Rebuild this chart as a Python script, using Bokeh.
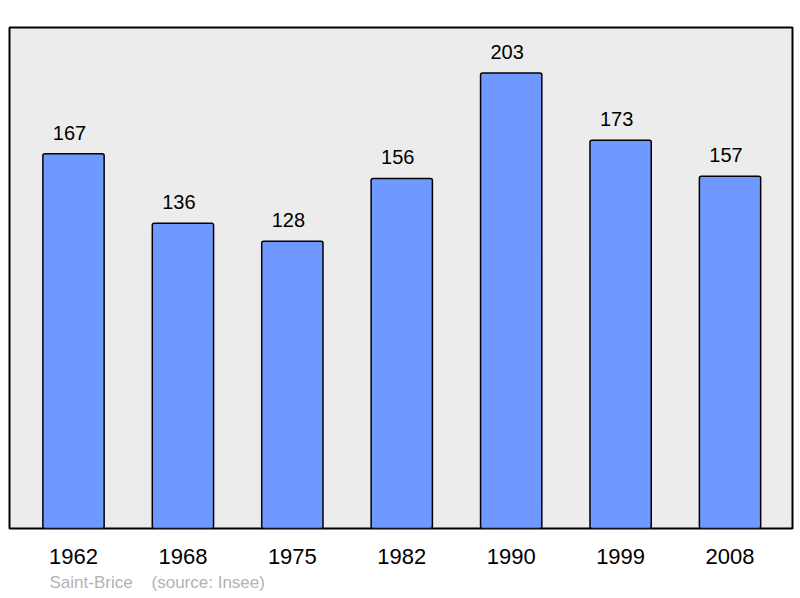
from bokeh.plotting import figure
from bokeh.models import ColumnDataSource, FixedTicker, Range1d, Title
from bokeh.core.properties import value
from bokeh.embed import file_html
from bokeh.resources import INLINE

years = ["1962", "1968", "1975", "1982", "1990", "1999", "2008"]
population = [167, 136, 128, 156, 203, 173, 157]
place = "Saint-Brice"
source_note = "(source: Insee)"

xs = list(range(len(years)))
src = ColumnDataSource(dict(x=xs, top=population, lbl=[str(v) for v in population]))

p = figure(width=800, height=598, output_backend="svg", toolbar_location=None,
           x_range=Range1d(-0.585, 6.571), y_range=Range1d(0, 223.3),
           min_border_left=9, min_border_right=8, min_border_top=27, min_border_bottom=70)
p.background_fill_color = "#ececec"
p.border_fill_color = "white"
p.outline_line_color = "black"
p.outline_line_width = 2
p.grid.visible = False
p.yaxis.visible = False

p.vbar(x="x", top="top", width=0.56, bottom=0, source=src,
       fill_color="#7099ff", line_color="black", line_width=1.5, border_radius=2)
p.text(x="x", y="top", text="lbl", source=src, x_offset=-4, y_offset=-21,
       text_align="center", text_baseline="alphabetic",
       text_font=value("Liberation Sans"), text_font_size="20px", text_color="black")

ax = p.xaxis[0]
ax.ticker = FixedTicker(ticks=xs)
ax.major_label_overrides = {i: y for i, y in zip(xs, years)}
ax.axis_line_color = None
ax.major_tick_line_color = None
ax.minor_tick_line_color = None
ax.major_tick_in = 0
ax.major_tick_out = 0
ax.major_label_standoff = 20
ax.major_label_text_font = "Liberation Sans"
ax.major_label_text_font_size = "22px"
ax.major_label_text_color = "black"

footer = Title(text=place + "\u00a0" * 4 + source_note, align="left", offset=40,
               standoff=9, text_font="Liberation Sans", text_font_size="17px",
               text_font_style="normal", text_color="#b3b3b3")
p.add_layout(footer, "below")

open("out.html", "w").write(file_html(p, INLINE))
